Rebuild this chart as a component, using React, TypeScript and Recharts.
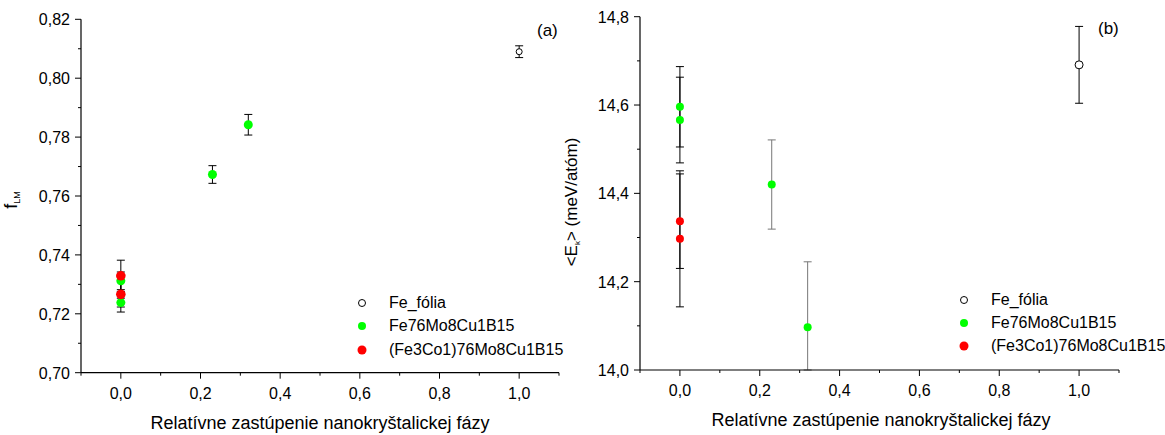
import React from 'react';
import { ScatterChart, Scatter, XAxis, YAxis, ErrorBar, Legend } from 'recharts';

const FONT = '"Liberation Sans", Arial, Helvetica, sans-serif';

// axis ticks (minor + major) and which ones carry a label
const xTicks = [-0.1, 0, 0.1, 0.2, 0.3, 0.4, 0.5, 0.6, 0.7, 0.8, 0.9, 1.0, 1.1];
const xMajor = [0, 0.2, 0.4, 0.6, 0.8, 1.0];
const fTicks = [0.70, 0.71, 0.72, 0.73, 0.74, 0.75, 0.76, 0.77, 0.78, 0.79, 0.80, 0.81, 0.82];
const fMajor = [0.70, 0.72, 0.74, 0.76, 0.78, 0.80, 0.82];
const eTicks = [14.0, 14.1, 14.2, 14.3, 14.4, 14.5, 14.6, 14.7, 14.8];
const eMajor = [14.0, 14.2, 14.4, 14.6, 14.8];

const seriesNames = ['Fe_fólia', 'Fe76Mo8Cu1B15', '(Fe3Co1)76Mo8Cu1B15'];
const xTitle = 'Relatívne zastúpenie nanokryštalickej fázy';

// (a) Lamb-Mössbauer factor f_LM
const foliaF = [{ x: 1.0, y: 0.809, err: 0.002 }];
const fe76F = [
  { x: 0, y: 0.7312, err: 0.003 },
  { x: 0, y: 0.7238, err: 0.0015 },
  { x: 0.23, y: 0.7673, err: 0.003 },
  { x: 0.32, y: 0.7842, err: 0.0035 },
];
const feCoF = [
  { x: 0, y: 0.7329, err: 0.0053 },
  { x: 0, y: 0.7266, err: 0.006 },
];

// (b) mean kinetic energy <E_k> (meV/atom)
const foliaE = [{ x: 1.0, y: 14.691, err: 0.087 }];
const fe76E = [
  { x: 0, y: 14.596, err: 0.091 },
  { x: 0, y: 14.566, err: 0.097 },
  { x: 0.23, y: 14.42, err: 0.101 },
  { x: 0.32, y: 14.097, err: 0.148 },
];
const feCoE = [
  { x: 0, y: 14.337, err: 0.107 },
  { x: 0, y: 14.297, err: 0.154 },
];

const GREEN = '#00ff00';
const RED = '#ff0000';
const E_MIN = 14.0;

const fmt = (v: number, d: number) => v.toFixed(d).replace('.', ',');
const isMajor = (v: number, list: number[]) => list.some((m) => Math.abs(m - v) < 1e-9);

// error bars stop at the bottom of the axis (Origin clips them there)
const withClip = (rows: { x: number; y: number; err: number }[], min: number) =>
  rows.map((d) => ({ ...d, errRange: [Math.min(d.err, d.y - min), d.err] }));

const xTick = (p: any) => {
  const major = isMajor(p.payload.value, xMajor);
  return (
    <g>
      <line x1={p.x} y1={p.y} x2={p.x} y2={p.y + (major ? 6 : 3)} stroke="#000" />
      {major && (
        <text x={p.x} y={p.y + 26} textAnchor="middle" fontSize={16} fontFamily={FONT} fill="#000">
          {fmt(p.payload.value, 1)}
        </text>
      )}
    </g>
  );
};

const yTick = (majors: number[], digits: number) => (p: any) => {
  const major = isMajor(p.payload.value, majors);
  return (
    <g>
      <line x1={p.x} y1={p.y} x2={p.x - (major ? 6 : 3)} y2={p.y} stroke="#000" />
      {major && (
        <text x={p.x - 11} y={p.y + 6} textAnchor="end" fontSize={16} fontFamily={FONT} fill="#000">
          {fmt(p.payload.value, digits)}
        </text>
      )}
    </g>
  );
};

const dot = (fill: string, stroke: string, r: number) => (p: any) => (
  <circle cx={p.cx} cy={p.cy} r={r} fill={fill} stroke={stroke} strokeWidth={stroke === 'none' ? 0 : 1} />
);

function LegendList({ rowH, gap }: { rowH: number; gap: number }) {
  const marks = [
    { fill: '#fff', stroke: '#000', r: 3.5 },
    { fill: GREEN, stroke: 'none', r: 4 },
    { fill: RED, stroke: 'none', r: 4.5 },
  ];
  return (
    <div style={{ fontFamily: FONT, fontSize: 16, color: '#000' }}>
      {seriesNames.map((name, i) => (
        <div key={name} style={{ height: rowH, display: 'flex', alignItems: 'center', whiteSpace: 'nowrap' }}>
          <svg width={18} height={18} style={{ flex: 'none' }}>
            <circle cx={9} cy={9} r={marks[i].r} fill={marks[i].fill} stroke={marks[i].stroke} />
          </svg>
          <span style={{ marginLeft: gap }}>{name}</span>
        </div>
      ))}
    </div>
  );
}

const xLabel = (cx: number) => (p: any) => {
  const vb = p.viewBox;
  return (
    <text x={cx} y={vb.y + 56} textAnchor="middle" fontSize={18} fontFamily={FONT} fill="#000">
      {xTitle}
    </text>
  );
};

const fLabel = () => (
  <text transform="rotate(-90, 17, 200)" x={17} y={200} textAnchor="middle" fontSize={18} fontFamily={FONT} fill="#000">
    f<tspan fontSize={9} dy={3}>LM</tspan>
  </text>
);

const eLabel = () => (
  <text transform="rotate(-90, 32, 202)" x={32} y={202} textAnchor="middle" fontSize={17} fontFamily={FONT} fill="#000">
    {'<E'}
    <tspan fontSize={8} dy={3}>k</tspan>
    <tspan fontSize={17} dy={-3}>{'> (meV/atóm)'}</tspan>
  </text>
);

export default function App() {
  const fe76Zero = fe76E.filter((d) => d.x === 0);
  const fe76Rest = withClip(fe76E.filter((d) => d.x !== 0), E_MIN);

  return (
    <div style={{ position: 'absolute', left: 0, top: 0, width: 1165, height: 435, background: '#fff', overflow: 'hidden' }}>
      <div style={{ position: 'absolute', left: 0, top: 0 }}>
        <ScatterChart width={565} height={435} margin={{ top: 19.3, right: 6, bottom: 0, left: 0 }}>
          <XAxis
            type="number"
            dataKey="x"
            domain={[-0.1, 1.1]}
            ticks={xTicks}
            interval={0}
            allowDataOverflow
            height={62.3}
            tickSize={0}
            tickMargin={0}
            tickLine={false}
            tick={xTick}
            axisLine={{ stroke: '#000', strokeWidth: 1.2 }}
            label={xLabel(320)}
          />
          <YAxis
            type="number"
            dataKey="y"
            domain={[0.7, 0.82]}
            ticks={fTicks}
            interval={0}
            allowDataOverflow
            width={81}
            tickSize={0}
            tickMargin={0}
            tickLine={false}
            tick={yTick(fMajor, 2)}
            axisLine={{ stroke: '#000', strokeWidth: 1.2 }}
            label={fLabel}
          />
          <Scatter name={seriesNames[0]} data={foliaF} shape={dot('#fff', '#000', 3)} isAnimationActive={false}>
            <ErrorBar dataKey="err" direction="y" width={4} stroke="#000" strokeWidth={1} isAnimationActive={false} />
          </Scatter>
          <Scatter name={seriesNames[1]} data={fe76F} shape={dot(GREEN, 'none', 4.5)} isAnimationActive={false}>
            <ErrorBar dataKey="err" direction="y" width={4} stroke="#000" strokeWidth={1} isAnimationActive={false} />
          </Scatter>
          <Scatter name={seriesNames[2]} data={feCoF} shape={dot(RED, 'none', 4.8)} isAnimationActive={false}>
            <ErrorBar dataKey="err" direction="y" width={4} stroke="#000" strokeWidth={1} isAnimationActive={false} />
          </Scatter>
          <Legend
            layout="vertical"
            align="center"
            verticalAlign="middle"
            content={() => <LegendList rowH={23.5} gap={18} />}
            wrapperStyle={{ left: 353, top: 291, width: 220, height: 72 }}
          />
        </ScatterChart>
        <div style={{ position: 'absolute', left: 537, top: 21, fontFamily: FONT, fontSize: 17 }}>(a)</div>
      </div>

      <div style={{ position: 'absolute', left: 545, top: 0 }}>
        <ScatterChart width={620} height={435} margin={{ top: 16.7, right: 46, bottom: 0, left: 0 }}>
          <XAxis
            type="number"
            dataKey="x"
            domain={[-0.1, 1.1]}
            ticks={xTicks}
            interval={0}
            allowDataOverflow
            height={65}
            tickSize={0}
            tickMargin={0}
            tickLine={false}
            tick={xTick}
            axisLine={{ stroke: '#000', strokeWidth: 1.2 }}
            label={xLabel(336)}
          />
          <YAxis
            type="number"
            dataKey="y"
            domain={[E_MIN, 14.8]}
            ticks={eTicks}
            interval={0}
            allowDataOverflow
            width={95}
            tickSize={0}
            tickMargin={0}
            tickLine={false}
            tick={yTick(eMajor, 1)}
            axisLine={{ stroke: '#000', strokeWidth: 1.2 }}
            label={eLabel}
          />
          <Scatter name={seriesNames[0]} data={foliaE} shape={dot('#fff', '#000', 4)} isAnimationActive={false}>
            <ErrorBar dataKey="err" direction="y" width={4} stroke="#000" strokeWidth={1} isAnimationActive={false} />
          </Scatter>
          <Scatter name={seriesNames[1]} data={fe76Zero} shape={dot(GREEN, 'none', 4)} isAnimationActive={false}>
            <ErrorBar dataKey="err" direction="y" width={4} stroke="#000" strokeWidth={1} isAnimationActive={false} />
          </Scatter>
          <Scatter
            name={seriesNames[1] + ' '}
            legendType="none"
            data={fe76Rest}
            shape={dot(GREEN, 'none', 4)}
            isAnimationActive={false}
          >
            <ErrorBar dataKey="errRange" direction="y" width={4} stroke="#777" strokeWidth={1} isAnimationActive={false} />
          </Scatter>
          <Scatter name={seriesNames[2]} data={feCoE} shape={dot(RED, 'none', 4)} isAnimationActive={false}>
            <ErrorBar dataKey="err" direction="y" width={4} stroke="#000" strokeWidth={1} isAnimationActive={false} />
          </Scatter>
          <Legend
            layout="vertical"
            align="center"
            verticalAlign="middle"
            content={() => <LegendList rowH={23} gap={18} />}
            wrapperStyle={{ left: 410, top: 288.5, width: 210, height: 70 }}
          />
        </ScatterChart>
        <div style={{ position: 'absolute', left: 553, top: 19, fontFamily: FONT, fontSize: 17 }}>(b)</div>
      </div>
    </div>
  );
}
